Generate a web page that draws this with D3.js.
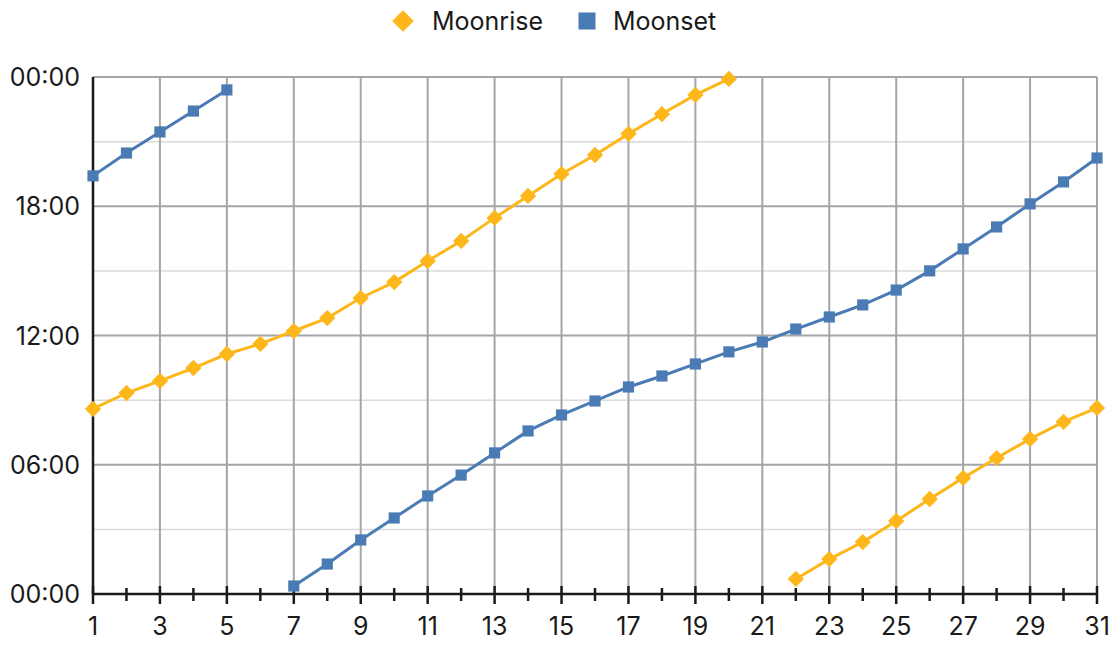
<!DOCTYPE html>
<html>
<head>
<meta charset="utf-8">
<script src="https://cdn.jsdelivr.net/npm/d3@7"></script>
<style>
  body { margin: 0; background: #fff; }
  svg { display: block; font-family: Inter, "Noto Sans", sans-serif; }
</style>
</head>
<body>
<svg id="chart" width="1117" height="658"></svg>
<script>
// moon rise / set times for one month, hours as decimals (null = no event that day)

const days = d3.range(1, 32);

const moonrise = [
  8.59, 9.33, 9.89, 10.49, 11.14, 11.61, 12.21, 12.81, 13.74, 14.48,
  15.46, 16.39, 17.46, 18.48, 19.50, 20.38, 21.36, 22.28, 23.17, 23.91,
  null, 0.70, 1.62, 2.41, 3.39, 4.41, 5.39, 6.31, 7.20, 7.99, 8.64
];

const moonset = [
  19.41, 20.47, 21.45, 22.42, 23.40, null, 0.37, 1.39, 2.51, 3.53,
  4.55, 5.52, 6.55, 7.57, 8.31, 8.96, 9.61, 10.12, 10.68, 11.24,
  11.70, 12.30, 12.86, 13.42, 14.11, 15.00, 16.02, 17.04, 18.11, 19.13, 20.24
];

const yTicks = [0, 6, 12, 18, 24];
const yMinor = [3, 9, 15, 21];
const xLabelDays = d3.range(1, 32, 2);

const RISE_COLOR = "#FDB71B";
const SET_COLOR = "#4B7BB4";

const svg = d3.select("#chart");
const margin = { top: 77, right: 20, bottom: 64, left: 93 };
const width = 1117, height = 658;

const x = d3.scaleLinear()
  .domain([1, 31])
  .range([margin.left, width - margin.right]);

const y = d3.scaleLinear()
  .domain([0, 24])
  .range([height - margin.bottom, margin.top]);

const fmtHour = h => String(h % 24).padStart(2, "0") + ":00";

// minor horizontal grid
svg.append("g")
  .selectAll("line")
  .data(yMinor)
  .enter().append("line")
  .attr("x1", x(1)).attr("x2", x(31))
  .attr("y1", d => y(d)).attr("y2", d => y(d))
  .attr("stroke", "#DADADA")
  .attr("stroke-width", 1.5);

// major horizontal grid
svg.append("g")
  .selectAll("line")
  .data(yTicks.filter(d => d > 0))
  .enter().append("line")
  .attr("x1", x(1)).attr("x2", x(31))
  .attr("y1", d => y(d)).attr("y2", d => y(d))
  .attr("stroke", "#A3A5A8")
  .attr("stroke-width", 2);

// vertical grid at odd days
svg.append("g")
  .selectAll("line")
  .data(xLabelDays.filter(d => d > 1))
  .enter().append("line")
  .attr("x1", d => x(d)).attr("x2", d => x(d))
  .attr("y1", y(24)).attr("y2", y(0))
  .attr("stroke", "#A3A5A8")
  .attr("stroke-width", 2);

// y axis line
svg.append("line")
  .attr("x1", x(1)).attr("x2", x(1))
  .attr("y1", y(24)).attr("y2", y(0))
  .attr("stroke", "#1a1a1a")
  .attr("stroke-width", 2.5);

// y labels
svg.append("g")
  .selectAll("text")
  .data(yTicks)
  .enter().append("text")
  .attr("x", margin.left - 13)
  .attr("y", d => y(d))
  .attr("dy", "0.36em")
  .attr("text-anchor", "end")
  .attr("font-size", "25px")
  .attr("fill", "#1a1a1a")
  .text(fmtHour);

// x axis with ticks every day
const xAxis = svg.append("g");
xAxis.append("line")
  .attr("x1", x(1) - 1).attr("x2", x(31) + 1)
  .attr("y1", y(0)).attr("y2", y(0))
  .attr("stroke", "#1a1a1a")
  .attr("stroke-width", 2.5);

xAxis.selectAll(".tick")
  .data(days)
  .enter().append("line")
  .attr("class", "tick")
  .attr("x1", d => x(d)).attr("x2", d => x(d))
  .attr("y1", d => y(0) + (d % 2 ? -8 : -6))
  .attr("y2", d => y(0) + (d % 2 ? 10 : 7))
  .attr("stroke", "#1a1a1a")
  .attr("stroke-width", 2.5);

xAxis.selectAll("text")
  .data(xLabelDays)
  .enter().append("text")
  .attr("x", d => x(d))
  .attr("y", y(0) + 41)
  .attr("text-anchor", "middle")
  .attr("font-size", "25px")
  .attr("fill", "#1a1a1a")
  .text(d => d);

// series
const series = [
  { name: "Moonrise", values: moonrise, color: RISE_COLOR, symbol: d3.symbolDiamond2, size: 170 },
  { name: "Moonset", values: moonset, color: SET_COLOR, symbol: d3.symbolSquare, size: 125 }
];

const line = d3.line()
  .defined(d => d.v !== null)
  .x(d => x(d.day))
  .y(d => y(d.v));

series.forEach(s => {
  const pts = days.map((day, i) => ({ day, v: s.values[i] }));

  svg.append("path")
    .datum(pts)
    .attr("fill", "none")
    .attr("stroke", s.color)
    .attr("stroke-width", 3)
    .attr("d", line);

  svg.append("g")
    .selectAll("path")
    .data(pts.filter(d => d.v !== null))
    .enter().append("path")
    .attr("transform", d => `translate(${x(d.day)},${y(d.v)})`)
    .attr("d", d3.symbol().type(s.symbol).size(s.size))
    .attr("fill", s.color);
});

// legend
const legend = svg.append("g");
const legendItems = [
  { name: "Moonrise", color: RISE_COLOR, symbol: d3.symbolDiamond2, size: 300, cx: 403, tx: 432 },
  { name: "Moonset", color: SET_COLOR, symbol: d3.symbolSquare, size: 290, cx: 587, tx: 613 }
];

legendItems.forEach(it => {
  legend.append("path")
    .attr("transform", `translate(${it.cx},21)`)
    .attr("d", d3.symbol().type(it.symbol).size(it.size))
    .attr("fill", it.color);
  legend.append("text")
    .attr("x", it.tx)
    .attr("y", 21)
    .attr("dy", "0.36em")
    .attr("font-size", "25px")
    .attr("fill", "#1a1a1a")
    .text(it.name);
});
</script>
</body>
</html>
